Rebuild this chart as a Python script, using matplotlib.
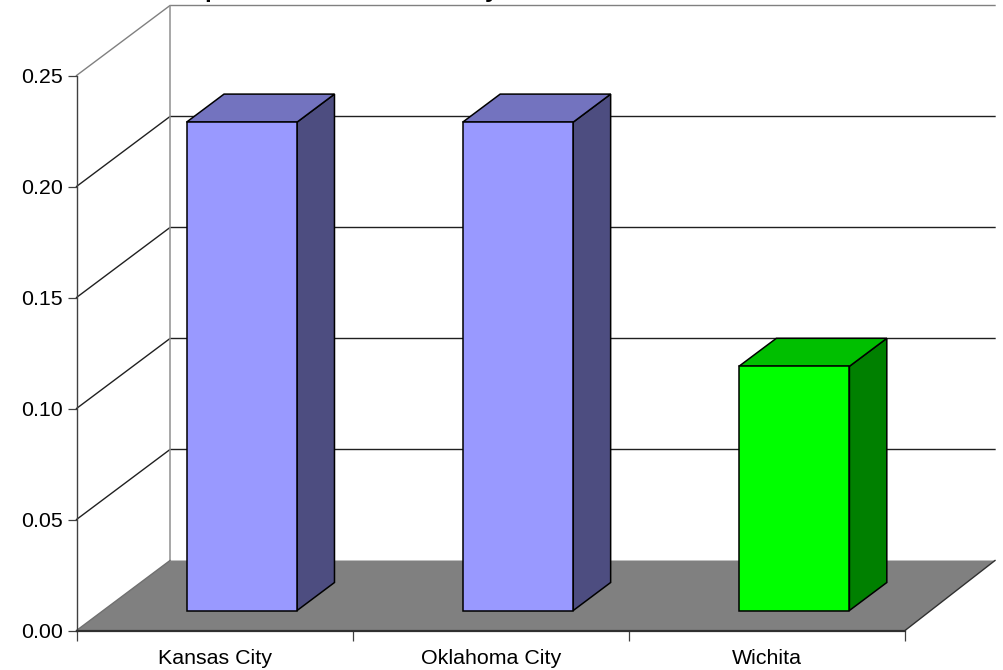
#!/usr/bin/env python3
from matplotlib.patches import Polygon
import matplotlib
matplotlib.use("Agg")
import matplotlib.pyplot as plt

cities = ["Kansas City", "Oklahoma City", "Wichita"]
values = [0.22, 0.22, 0.11]
yticks = [0.00, 0.05, 0.10, 0.15, 0.20, 0.25]

W, H = 1004, 670
# front plane of the 3d box, in pixels
X0, X1 = 76.5, 905.0
Y0, Y1 = 630.5, 75.5
YMAX = 0.25
# depth of the box in axis units
DX = 93.5 / ((X1 - X0) / 3)
DY = 70.0 / ((Y0 - Y1) / YMAX)
BAR_W = 0.4
GAP = 0.302
D_NEAR = 0.2857
D_FAR = 0.6857
# the back wall stops a little short of the full depth offset
XEND = 3 - 3.5 / ((X1 - X0) / 3)

BLUE = ("#9999ff", "#7373bf", "#4d4d80")
GREEN = ("#00ff00", "#00bf00", "#008000")
colors = [BLUE, BLUE, GREEN]

plt.rcParams["font.family"] = ["Liberation Sans", "DejaVu Sans"]

fig = plt.figure(figsize=(W / 100, H / 100), dpi=100, facecolor="white")
ax = fig.add_axes([X0 / W, 1 - Y0 / H, (X1 - X0) / W, (Y0 - Y1) / H])
ax.set_xlim(0, 3)
ax.set_ylim(0, YMAX)
ax.patch.set_visible(False)
for side in ["top", "right"]:
    ax.spines[side].set_visible(False)
ax.spines["left"].set_color("#404040")
ax.spines["left"].set_linewidth(1.0)
ax.spines["bottom"].set_color("#303030")
ax.spines["bottom"].set_linewidth(1.6)


def pt(x, y, d=0.0):
    # oblique projection: d=1 is the back wall
    return (x + DX * d, y + DY * d)


def poly(pts, fc, ec="black", lw=1.1, z=3):
    ax.add_patch(Polygon(pts, closed=True, facecolor=fc, edgecolor=ec,
                         linewidth=lw, zorder=z, clip_on=False, joinstyle="miter"))


# floor
poly([pt(0, 0), pt(3, 0), pt(XEND, 0, 1), pt(0, 0, 1)], "#808080", ec="none", z=1)
ax.plot(*zip(pt(3, 0), pt(XEND, 0, 1)), color="#303030", lw=1.0, zorder=1.5, clip_on=False)

# walls and gridlines
for v in yticks:
    if v == 0:
        continue
    col = "#808080" if v == YMAX else "#202020"
    ax.plot(*zip(pt(0, v), pt(0, v, 1), pt(XEND, v, 1)), color=col, lw=1.0,
            zorder=1, clip_on=False, solid_joinstyle="miter")
ax.plot(*zip(pt(0, 0), pt(0, 0, 1)), color="#707070", lw=1.0, zorder=1.5, clip_on=False)
ax.plot(*zip(pt(0, 0, 1), pt(0, YMAX, 1)), color="#909090", lw=1.1, zorder=1, clip_on=False)

# bars
for i, (v, c) in enumerate(zip(values, colors)):
    l = i + GAP
    r = l + BAR_W
    front, top, side = c
    poly([pt(r, 0, D_NEAR), pt(r, 0, D_FAR), pt(r, v, D_FAR), pt(r, v, D_NEAR)], side)
    poly([pt(l, v, D_NEAR), pt(r, v, D_NEAR), pt(r, v, D_FAR), pt(l, v, D_FAR)], top)
    poly([pt(l, 0, D_NEAR), pt(r, 0, D_NEAR), pt(r, v, D_NEAR), pt(l, v, D_NEAR)], front)

ax.set_yticks(yticks)
ax.set_yticklabels([f"{v:.2f}" for v in yticks])
ax.set_xticks([0, 1, 2, 3])
ax.set_xticklabels([])
ax.tick_params(axis="y", length=6.5, width=0.9, color="#404040", labelsize=15.4, pad=3.5)
ax.tick_params(axis="x", length=7, width=0.9, color="#404040")
for i, name in enumerate(cities):
    ax.annotate(name, (i + 0.5, 0), xytext=(0, -13), textcoords="offset points",
                ha="center", va="top", fontsize=15.4, annotation_clip=False)

# title sits above the top edge, only its descenders reach the canvas
fig.text(204 / W, 1 + 3 / H, "p", fontsize=17.5, fontweight="bold", va="baseline")
fig.text(485 / W, 1 + 3 / H, "y", fontsize=17.5, fontweight="bold", va="baseline")

fig.savefig("out.png", dpi=100)
